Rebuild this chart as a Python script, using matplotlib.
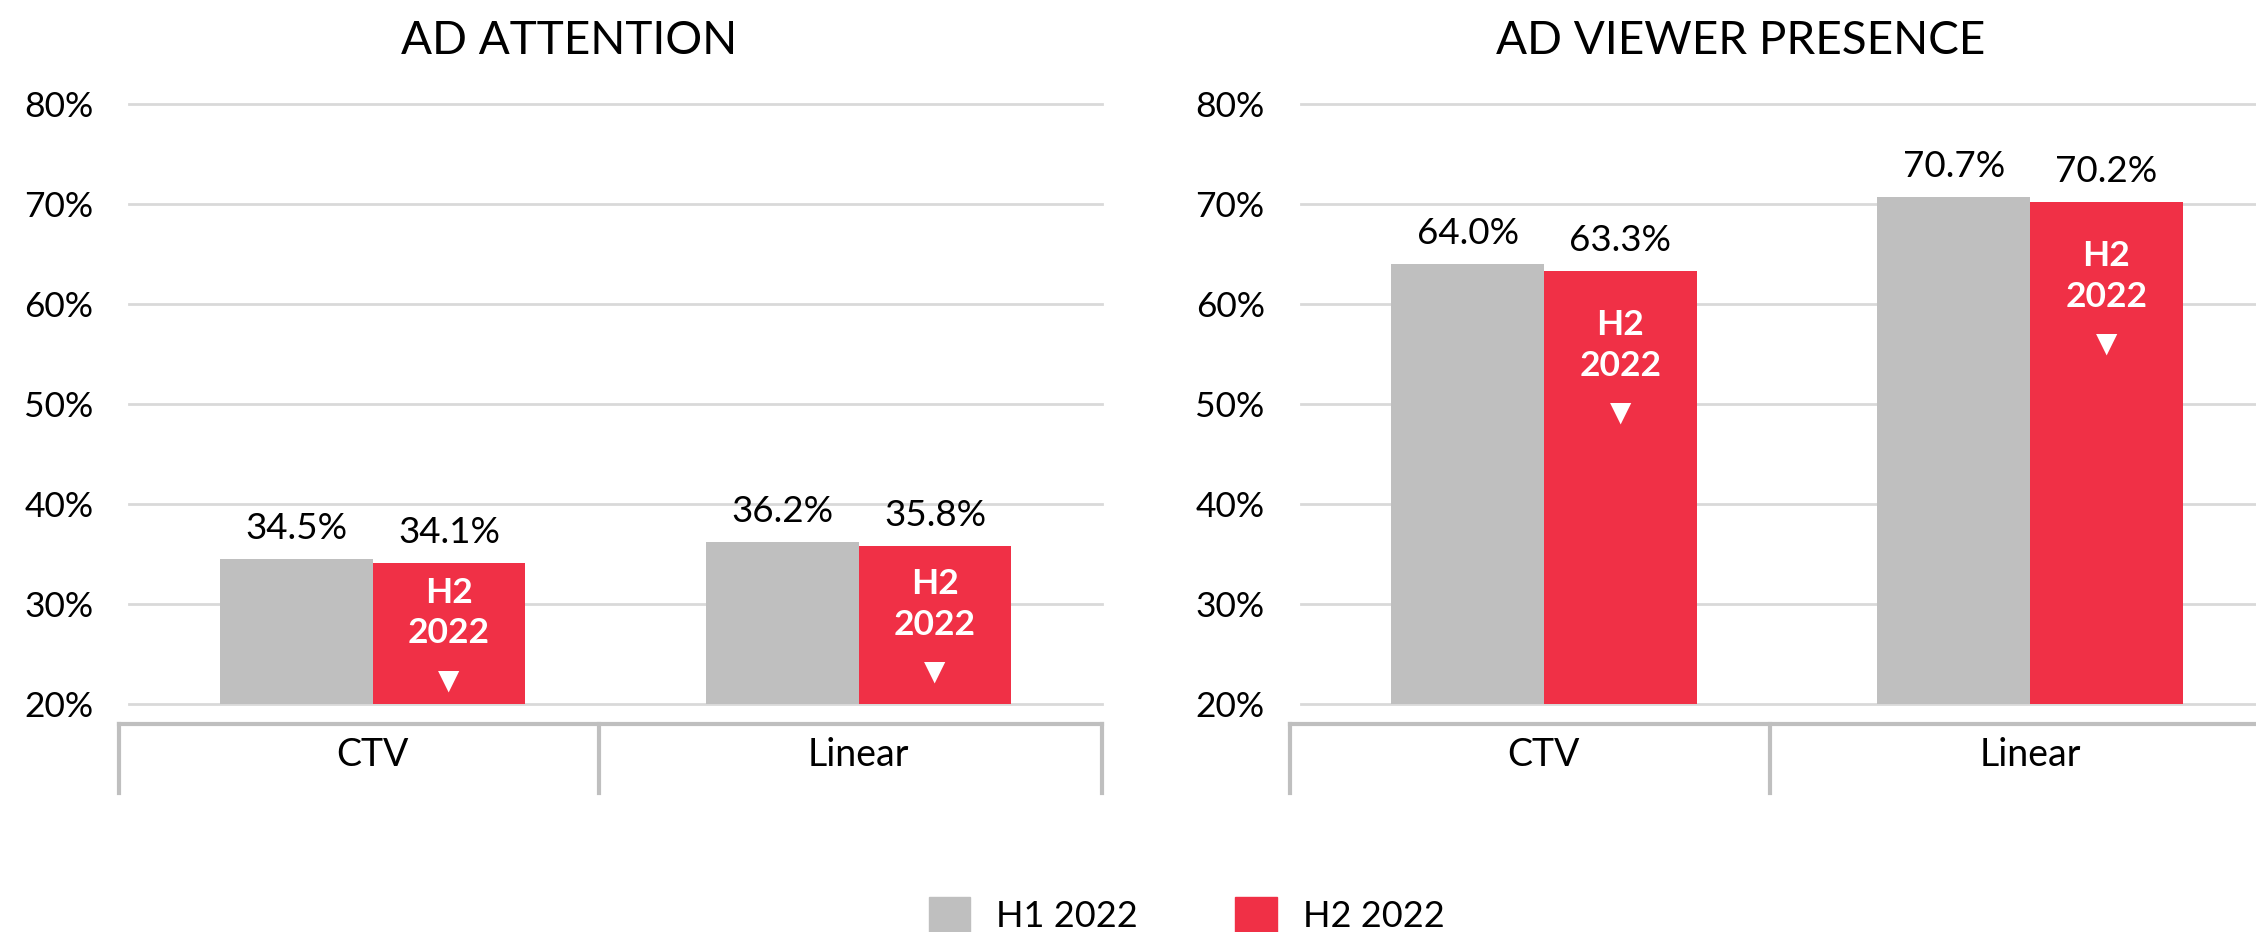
# AD attention / viewer presence, H1 vs H2 2022

import numpy as np
import matplotlib.pyplot as plt
from matplotlib.patches import Patch
from matplotlib.lines import Line2D
from matplotlib.transforms import blended_transform_factory

plt.rcParams['font.family'] = ['Lato', 'DejaVu Sans']

categories   = ['CTV', 'Linear']
attention_h1 = [34.5, 36.2]
attention_h2 = [34.1, 35.8]
presence_h1  = [64.0, 70.7]
presence_h2  = [63.3, 70.2]
yticks       = [20, 30, 40, 50, 60, 70, 80]
series_names = ['H1 2022', 'H2 2022']

GREY = '#bfbfbf'
RED  = '#f03046'
GRID = '#d9d9d9'
BOX  = '#bfbfbf'

fig = plt.figure(figsize=(22.56, 9.32), dpi=100)
ax1 = fig.add_axes([0.0574, 0.245, 0.431, 0.6438])
ax2 = fig.add_axes([0.5766, 0.245, 0.431, 0.6438])


def draw_panel(ax, title, h1, h2):
    x = np.arange(len(categories))
    w = 0.314
    ax.bar(x - w / 2, h1, w, color=GREY, zorder=3)
    ax.bar(x + w / 2, h2, w, color=RED, zorder=3)
    ax.set_xlim(-0.5, 1.5)
    ax.set_ylim(20, 80)
    ax.set_yticks(yticks)
    ax.set_yticklabels([f'{t}%' for t in yticks])
    ax.tick_params(axis='y', length=0, pad=26, labelsize=25.5)
    ax.set_xticks([])
    for s in ax.spines.values():
        s.set_visible(False)
    for t in yticks:
        ax.axhline(t, color=GRID, lw=2, zorder=1, clip_on=False)

    # value labels
    for xi, v in zip(x - w / 2, h1):
        ax.annotate(f'{v:.1f}%', (xi, v), xytext=(0, 14), textcoords='offset points',
                    ha='center', va='baseline', fontsize=26.5)
    for xi, v in zip(x + w / 2, h2):
        ax.annotate(f'{v:.1f}%', (xi, v), xytext=(0, 14), textcoords='offset points',
                    ha='center', va='baseline', fontsize=26.5)
        yc = max(v - 9.5, (20 + v) / 2)
        ax.annotate('H2', (xi, yc), xytext=(0, 29), textcoords='offset points',
                    ha='center', va='center', fontsize=25.5, color='white', fontweight='bold')
        ax.annotate('2022', (xi, yc), xytext=(0, 0), textcoords='offset points',
                    ha='center', va='center', fontsize=25.5, color='white', fontweight='bold')
        ax.annotate('\u25BC', (xi, yc), xytext=(0, -34), textcoords='offset points',
                    ha='center', va='center', fontsize=20, color='white',
                    family='DejaVu Sans')

    # category box under the axis
    tr = blended_transform_factory(ax.transData, ax.transAxes)
    edges = [-0.522, 0.465, 1.5]
    ax.add_line(Line2D([edges[0], edges[-1]], [-0.034, -0.034], transform=tr,
                       color=BOX, lw=3, clip_on=False))
    for e in edges:
        ax.add_line(Line2D([e, e], [-0.034, -0.149], transform=tr,
                           color=BOX, lw=3, clip_on=False))
    for xi, c in zip(x, categories):
        ax.text(xi, -0.086, c, transform=tr, ha='center', va='center', fontsize=27)

    ax.set_title(title, x=0.452, y=1.0, pad=36, fontsize=33)


draw_panel(ax1, 'AD ATTENTION', attention_h1, attention_h2)
draw_panel(ax2, 'AD VIEWER PRESENCE', presence_h1, presence_h2)

handles = [Patch(color=GREY), Patch(color=RED)]
fig.legend(handles, series_names, loc='center', bbox_to_anchor=(0.526, 1 - 915 / 932),
           ncol=2, frameon=False, fontsize=26, handlelength=1.15, handleheight=1.15,
           handletextpad=0.72, columnspacing=2.7)

fig.savefig('out.png', dpi=100)
